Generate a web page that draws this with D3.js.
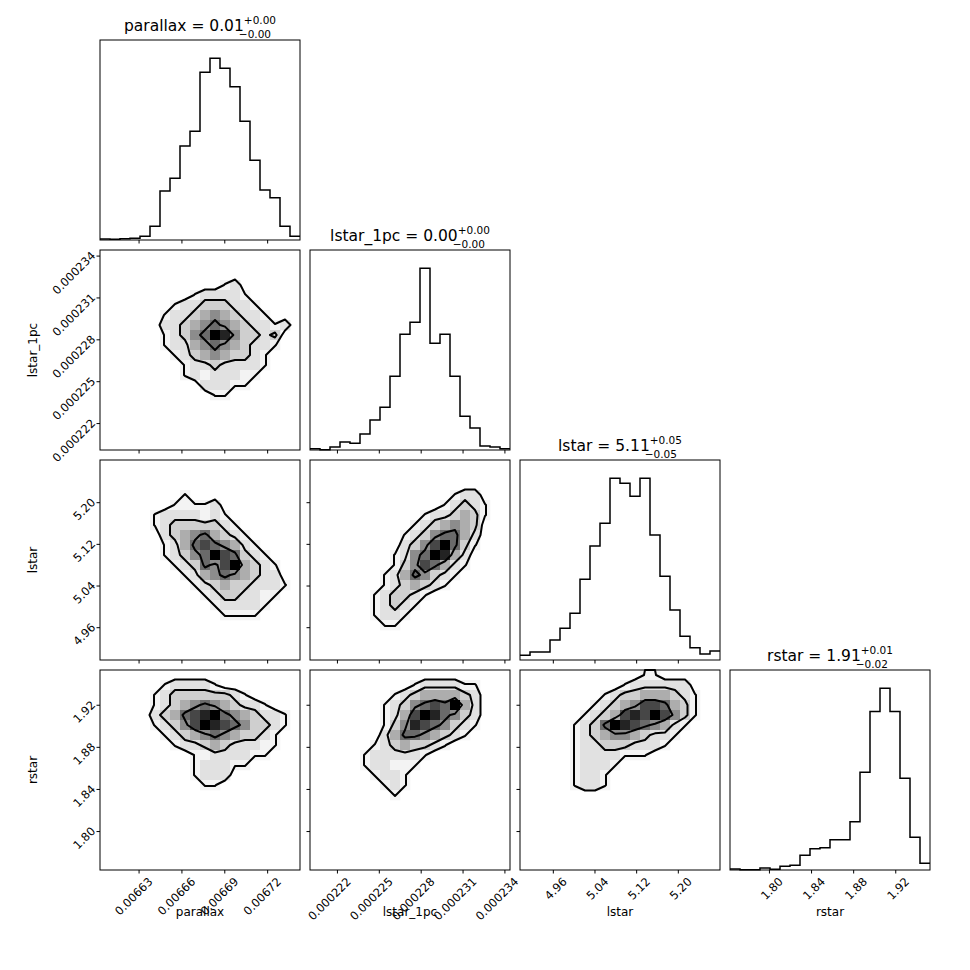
<!DOCTYPE html>
<html><head><meta charset="utf-8">
<script src="https://cdn.jsdelivr.net/npm/d3@7"></script>
<style>
body{margin:0;background:#fff;}
text{font-family:"DejaVu Sans",sans-serif;fill:#000;}
</style></head>
<body><svg id="c" width="970" height="970"></svg>
<script>
// ── Data ──────────────────────────────────────────────────────
const params   = ["parallax", "lstar_1pc", "lstar", "rstar"];
const domains  = [[0.006603, 0.006743], [0.00022007, 0.0002344], [4.897, 5.281], [1.763, 1.953]];
const ticks    = [[0.00663, 0.00666, 0.00669, 0.00672],
                  [0.000222, 0.000225, 0.000228, 0.000231, 0.000234],
                  [4.96, 5.04, 5.12, 5.20],
                  [1.80, 1.84, 1.88, 1.92]];
const tickFmt  = [d3.format(".5f"), d3.format(".6f"), d3.format(".2f"), d3.format(".2f")];
const titles   = [["parallax = 0.01", "+0.00", "\u22120.00"],
                  ["lstar_1pc = 0.00", "+0.00", "\u22120.00"],
                  ["lstar = 5.11", "+0.05", "\u22120.05"],
                  ["rstar = 1.91", "+0.01", "\u22120.02"]];

// 20-bin 1D histograms
const histParallax = [3,2,4,5,11,41,147,185,282,326,503,545,515,459,356,239,150,127,41,11];
const histLstar1pc = [4,1,9,24,20,48,90,128,221,347,383,545,320,347,221,101,66,12,9,4];
const histLstar    = [14,24,24,60,95,140,242,342,410,545,530,491,545,375,251,150,71,37,18,27];
const histRstar    = [3,1,1,6,2,11,14,44,64,67,91,91,145,293,475,545,475,275,98,20];
const hists = [histParallax, histLstar1pc, histLstar, histRstar];

// 20x20 2D histograms (rows from high y to low y), digits = relative density 0-9
const pad = "00000000000000000000";
const gridParallaxLstar1pc = [pad,pad,pad,
  "00000000000012000000","00000000012222100000","00000001223332210000","00000012234543221000",
  "00000022345654322120","00000012356985332300","00000012245654322100","00000001234543321000",
  "00000000122322221000","00000000121222110000","00000000002221100000","00000000000110000000",
  pad,pad,pad,pad,pad];
const gridParallaxLstar = [pad,pad,pad,
  "00000000100000000000","00000001111200000000","00000122221210000000","00000123333321000000",
  "00000023456432100000","00000012467654210000","00000012356976321000","00000001236579432100",
  "00000000124565432200","00000000012343322210","00000000001233221100","00000000000122221000",
  "00000000000011110000",pad,pad,pad,pad];
const gridLstar1pcLstar = [pad,pad,pad,
  "00000000000000122000","00000000000001232100","00000000000122343100","00000000001234543000",
  "00000000012356642000","00000000023579631000","00000000125698420000","00000000135764210000",
  "00000001246532100000","00000001234321000000","00000012332100000000","00000012321000000000",
  "00000012210000000000","00000001100000000000",pad,pad,pad];
const gridParallaxRstar = [pad,
  "00000012222100000000","00000123333332100000","00000123456543221000","00000234678965432210",
  "00000123579876533210","00000012345654332100","00000001223432221100","00000000011222211000",
  "00000000012221100000","00000000012220000000","00000000001100000000",
  pad,pad,pad,pad,pad,pad,pad,pad];
const gridLstar1pcRstar = [pad,
  "00000000001222211000","00000000123444432000","00000001235676942000","00000001247986532000",
  "00000001358765321000","00000002466543210000","00000012343321000000","00000122222100000000",
  "00000122111000000000","00000012210000000000","00000001210000000000","00000000100000000000",
  pad,pad,pad,pad,pad,pad,pad];
const gridLstarRstar = [
  "00000000000011000000","00000000001222222000","00000000123344432100","00000001234577643100",
  "00000012347879753100","00000123698765421000","00000123455432210000","00000122333222100000",
  "00000122221110000000","00000122210000000000","00000122100000000000","00000122100000000000",
  pad,pad,pad,pad,pad,pad,pad,pad];
const grids = {"1,0": gridParallaxLstar1pc, "2,0": gridParallaxLstar, "2,1": gridLstar1pcLstar,
               "3,0": gridParallaxRstar, "3,1": gridLstar1pcRstar, "3,2": gridLstarRstar};
const levels = [0.9, 2.5, 5.5];

// ── Layout ────────────────────────────────────────────────────
const x0 = 100, y0 = 40, size = 200, gap = 10, nb = 20;
const svg = d3.select("#c");

function panelX(i) { return x0 + i * (size + gap); }
function panelY(i) { return y0 + i * (size + gap); }

function xAxisFor(g, col, row, sx) {
  const ax = g.append("g").attr("transform", `translate(0,${size})`)
    .call(d3.axisBottom(sx).tickValues(ticks[col]).tickSize(3.5).tickSizeOuter(0)
      .tickFormat(row === 3 ? tickFmt[col] : ""));
  ax.select(".domain").remove();
  ax.selectAll("text").attr("font-size", 11.5).attr("text-anchor", "end")
    .attr("transform", "translate(4,2) rotate(-45)").attr("dy", "0.7em");
}
function yAxisFor(g, col, row, sy) {
  const ax = g.append("g")
    .call(d3.axisLeft(sy).tickValues(ticks[row]).tickSize(3.5).tickSizeOuter(0)
      .tickFormat(col === 0 ? tickFmt[row] : ""));
  ax.select(".domain").remove();
  ax.selectAll("text").attr("font-size", 11.5).attr("text-anchor", "end")
    .attr("transform", "rotate(-45)").attr("dy", "0.3em").attr("x", -3).attr("y", -6);
}

const gray = d3.scaleLinear().domain([0, 1, 3, 6, 9])
  .range(["#ffffff", "#f3f3f3", "#cfcfcf", "#6a6a6a", "#000000"]);

for (let row = 0; row < 4; row++) {
  for (let col = 0; col <= row; col++) {
    const g = svg.append("g").attr("transform", `translate(${panelX(col)},${panelY(row)})`);
    const sx = d3.scaleLinear().domain(domains[col]).range([0, size]);
    const dx = (domains[col][1] - domains[col][0]) / nb;

    if (row === col) {
      // diagonal histogram
      const h = hists[col];
      const sy = d3.scaleLinear().domain([0, d3.max(h) * 1.1]).range([size, 0]);
      const pts = [];
      h.forEach((v, k) => {
        pts.push([domains[col][0] + k * dx, v], [domains[col][0] + (k + 1) * dx, v]);
      });
      g.append("path").attr("fill", "none").attr("stroke", "#000").attr("stroke-width", 1.5)
        .attr("d", d3.line().x(d => sx(d[0])).y(d => sy(d[1]))(pts));
      const t = titles[col];
      const tt = g.append("text").attr("x", size / 2).attr("y", -9)
        .attr("text-anchor", "middle").attr("font-size", 15.5);
      tt.append("tspan").text(t[0]);
      tt.append("tspan").attr("font-size", 10.5).attr("dy", -7).text(t[1]);
      tt.append("tspan").attr("font-size", 10.5).attr("dy", 7).text(" ");
      const n = tt.node();
      const sx0 = n.getStartPositionOfChar(t[0].length).x;
      g.append("text").attr("x", sx0 - 5).attr("y", -2).attr("font-size", 10.5).text(t[2]);
      xAxisFor(g, col, row, sx);
    } else {
      const sy = d3.scaleLinear().domain(domains[row]).range([size, 0]);
      const dy = (domains[row][1] - domains[row][0]) / nb;
      const grid = grids[row + "," + col];
      const vals = [];
      grid.forEach(s => s.split("").forEach(c => vals.push(+c)));
      const cells = vals.map((v, k) => ({v, c: k % nb, r: Math.floor(k / nb)})).filter(d => d.v > 0);
      g.selectAll("rect.cell").data(cells).join("rect").attr("class", "cell")
        .attr("x", d => sx(domains[col][0] + d.c * dx))
        .attr("y", d => sy(domains[row][1] - d.r * dy))
        .attr("width", size / nb + 0.3).attr("height", size / nb + 0.3)
        .attr("fill", d => gray(d.v));
      const cont = d3.contours().size([nb, nb]).thresholds(levels)(vals);
      const proj = d3.geoTransform({point: function (gx, gy) {
        this.stream.point(sx(domains[col][0] + gx * dx), sy(domains[row][1] - gy * dy));
      }});
      g.selectAll("path.ct").data(cont).join("path").attr("class", "ct")
        .attr("d", d3.geoPath(proj)).attr("fill", "none")
        .attr("stroke", "#000").attr("stroke-width", 2).attr("stroke-linejoin", "round");
      xAxisFor(g, col, row, sx);
      yAxisFor(g, col, row, sy);
    }
    g.append("rect").attr("width", size).attr("height", size)
      .attr("fill", "none").attr("stroke", "#000").attr("stroke-width", 1);
  }
}

// axis labels
params.forEach((p, i) => {
  svg.append("text").attr("x", panelX(i) + size / 2).attr("y", 916)
    .attr("text-anchor", "middle").attr("font-size", 12).text(p);
  if (i > 0) {
    svg.append("text").attr("transform", `translate(37,${panelY(i) + size / 2}) rotate(-90)`)
      .attr("text-anchor", "middle").attr("font-size", 12).text(p);
  }
});
</script></body></html>
